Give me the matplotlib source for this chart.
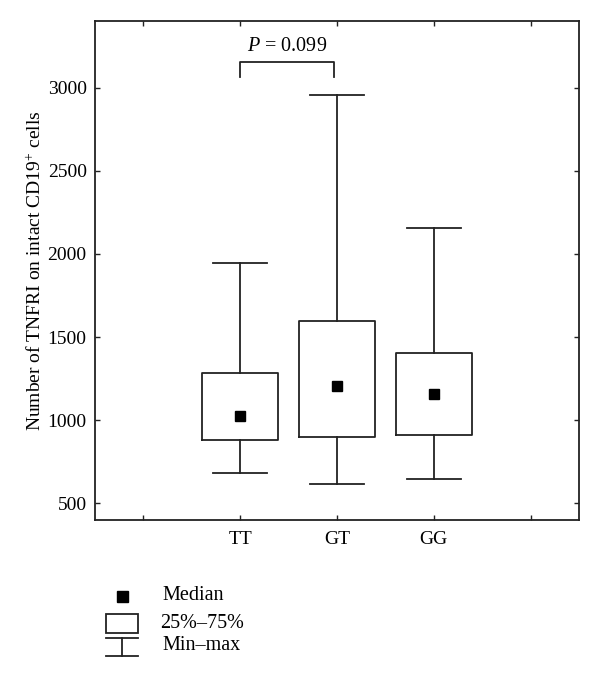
import matplotlib
matplotlib.use("Agg")
import matplotlib.pyplot as plt
from matplotlib.patches import Rectangle

plt.rcParams["font.family"] = ["Liberation Serif", "DejaVu Serif"]
plt.rcParams["mathtext.fontset"] = "custom"
plt.rcParams["mathtext.rm"] = "Liberation Serif"
plt.rcParams["mathtext.it"] = "Liberation Serif:italic"

# data
genotypes = ["TT", "GT", "GG"]
medians = [1028, 1206, 1158]
q1 = [882, 902, 910]
q3 = [1282, 1594, 1406]
mins = [682, 618, 646]
maxs = [1948, 2955, 2154]
p_label = "0.099"

positions = [1, 2, 3]
line_col = "#222222"

stats = []
for i, g in enumerate(genotypes):
    stats.append({"label": g, "med": medians[i], "q1": q1[i], "q3": q3[i],
                  "whislo": mins[i], "whishi": maxs[i], "mean": medians[i],
                  "fliers": []})

fig = plt.figure(figsize=(6.0, 6.79), dpi=100)
ax = fig.add_axes([95 / 600, 1 - 520 / 679, 484 / 600, 499 / 679])

lp = dict(color=line_col, linewidth=1.3)
ax.bxp(stats, positions=positions, widths=0.79, capwidths=0.56,
       showmeans=True, showfliers=False,
       boxprops=lp, whiskerprops=lp, capprops=lp,
       medianprops=dict(linewidth=0),
       meanprops=dict(marker="s", markerfacecolor="black",
                      markeredgecolor="black", markersize=6.5))

ax.set_xlim(-0.5, 4.5)
ax.set_ylim(400, 3400)
ax.set_xticks([0, 1, 2, 3, 4])
ax.set_xticklabels(["", "TT", "GT", "GG", ""])
ax.set_yticks([500, 1000, 1500, 2000, 2500, 3000])
ax.tick_params(direction="in", top=True, right=True, length=3.5,
               width=1, labelsize=14, color=line_col)
ax.tick_params(axis="y", pad=6)
ax.tick_params(axis="x", pad=8)
for s in ax.spines.values():
    s.set_linewidth(1.3)
    s.set_color(line_col)

ax.set_ylabel("Number of TNFRI on intact CD19$^{+}$ cells", fontsize=14, labelpad=2)

# significance bracket TT vs GT
ax.plot([1, 1, 1.97, 1.97], [3066, 3152, 3152, 3066], color=line_col, lw=1.3)
ax.text(1.485, 3190, "$P$ = " + p_label, ha="center", va="bottom", fontsize=14.5)

# legend drawn in pixel coordinates of the figure
lg = fig.add_axes([0, 0, 1, 1])
lg.set_xlim(0, 600)
lg.set_ylim(679, 0)
lg.axis("off")
lg.add_patch(Rectangle((116.5, 590.5), 11, 11, facecolor="black", edgecolor="black"))
lg.add_patch(Rectangle((106, 614), 32, 19, facecolor="white", edgecolor=line_col, lw=1.3))
lg.plot([106, 138], [638, 638], color=line_col, lw=1.3)
lg.plot([106, 138], [656, 656], color=line_col, lw=1.3)
lg.plot([122, 122], [638, 656], color=line_col, lw=1.3)
lg.text(162, 596, "Median", va="center", fontsize=14.5)
lg.text(160, 624, "25%\u201375%", va="center", fontsize=14.5)
lg.text(162, 645, "Min\u2013max", va="center", fontsize=14.5)

fig.savefig("out.png", dpi=100)
